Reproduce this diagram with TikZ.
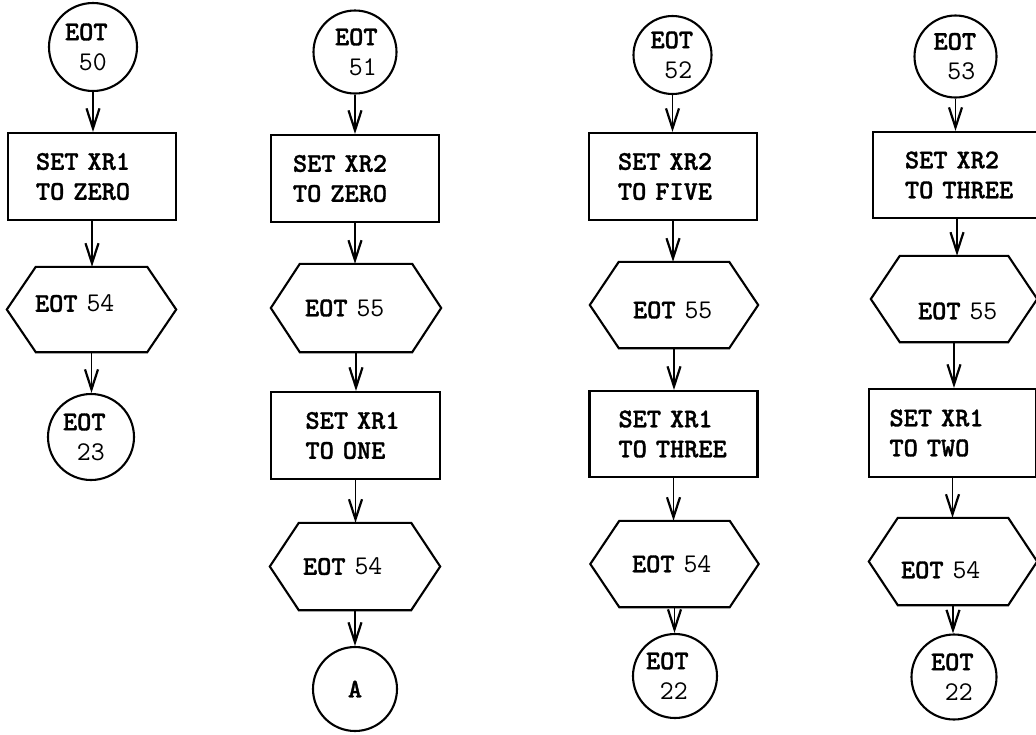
\documentclass[tikz,border=0pt]{standalone}
\usepackage{fontspec}
\usetikzlibrary{arrows.meta}
\newfontfamily\lmbold{lmmonolt10-bold.otf}[FakeBold=1.2]
\newcommand\bt[1]{{\lmbold #1}}
\tikzset{
  every node/.style={font=\ttfamily\fontsize{27}{30}\selectfont},
  shapeline/.style={line width=2.1pt},
  term/.style={circle, draw, shapeline, inner sep=0pt, minimum size=#1, align=left},
  proc/.style={rectangle, draw, shapeline, inner xsep=0pt, align=left, minimum width=168pt, minimum height=87pt},
  io/.style={rectangle, inner sep=0pt, align=left, minimum width=168pt, minimum height=86pt, text height=16.5pt, text depth=0pt},
  tw/.style={text width=#1},
  flow/.style={line width=1.9pt, -{Straight Barb[length=20pt,width=13pt,line width=2.2pt]}},
}
\begin{document}
\begin{tikzpicture}[x=1pt,y=-1pt]
\clip (0,0) rectangle (1036,734);
% column 1
\node[term=88pt, tw=56pt] (c50) at (93,47) {\bt{EOT}\\\phantom{0}50};
\node[proc, tw=112pt] (p11) at (92,176.5) {\bt{SET~XR1}\\\bt{TO~ZERO}};
\node[io, tw=113pt, minimum width=169pt, minimum height=85pt, text depth=12pt] (h11) at (91.5,309.5) {\bt{EOT}~54};
\node[term=86pt, tw=56pt] (c23) at (91,437) {\bt{EOT}\\\phantom{0}23};
% column 2
\node[term=83pt, tw=40pt] (c51) at (355,52) {\bt{EOT}\\\phantom{0}51};
\node[proc, tw=124pt] (p21) at (355,178.5) {\bt{SET~XR2}\\\bt{TO~ZERO}};
\node[io, tw=102pt, minimum width=170pt, minimum height=88pt] (h21) at (356,308) {\bt{EOT}~55};
\node[proc, tw=100pt, minimum width=169pt] (p22) at (355.5,435.5) {\bt{SET~XR1}\\\bt{TO~ONE}};
\node[io, tw=104pt, minimum width=170pt, minimum height=87pt] (h22) at (355,566.5) {\bt{EOT}~54};
\node[term=84pt] (cA) at (355,689) {\bt{A}};
% column 3
\node[term=78pt, tw=44pt] (c52) at (672.5,55) {\bt{EOT}\\\phantom{0}52};
\node[proc, tw=110pt] (p31) at (673,176.5) {\bt{SET~XR2}\\\bt{TO~FIVE}};
\node[io, tw=82pt, text height=26.5pt] (h31) at (674,305) {\bt{EOT}~55};
\node[proc, tw=110pt, minimum height=86pt] (p32) at (673.5,434) {\bt{SET~XR1}\\\bt{TO~THREE}};
\node[io, tw=85pt] (h32) at (674.5,564) {\bt{EOT}~54};
\node[term=84pt, tw=58pt] (c22a) at (675,676) {\bt{EOT}\\\phantom{0}22};
% column 4
\node[term=82pt, tw=44pt] (c53) at (955.5,56.5) {\bt{EOT}\\\phantom{0}53};
\node[proc, tw=104pt, minimum height=86pt] (p41) at (957,175) {\bt{SET~XR2}\\\bt{TO~THREE}};
\node[io, tw=72pt, minimum width=166pt, text height=40.5pt] (h41) at (954,299) {\bt{EOT}~55};
\node[proc, tw=126pt, minimum width=167pt, minimum height=88pt] (p42) at (952.5,433) {\bt{SET~XR1}\\\bt{TO~TWO}};
\node[io, tw=104pt, minimum height=87pt, text height=33.5pt] (h42) at (953,561.5) {\bt{EOT}~54};
\node[term=85pt, tw=46pt] (c22b) at (954,677) {\bt{EOT}\\\phantom{0}22};
% hexagon outlines
\foreach \h in {h11,h21,h22,h31,h32,h41,h42}
  \draw[shapeline] (\h.west) -- ([xshift=29pt]\h.north west) -- ([xshift=-29pt]\h.north east)
    -- (\h.east) -- ([xshift=-29pt]\h.south east) -- ([xshift=29pt]\h.south west) -- cycle;
% connectors
\foreach \a/\b in {c50/p11, p11/h11, h11/c23,
                   c51/p21, p21/h21, h21/p22, p22/h22, h22/cA,
                   c52/p31, p31/h31, h31/p32, p32/h32, h32/c22a,
                   c53/p41, p41/h41, h41/p42, p42/h42, h42/c22b}
  \draw[flow] (\a.south) -- (\a.south |- \b.north);
\end{tikzpicture}
\end{document}
